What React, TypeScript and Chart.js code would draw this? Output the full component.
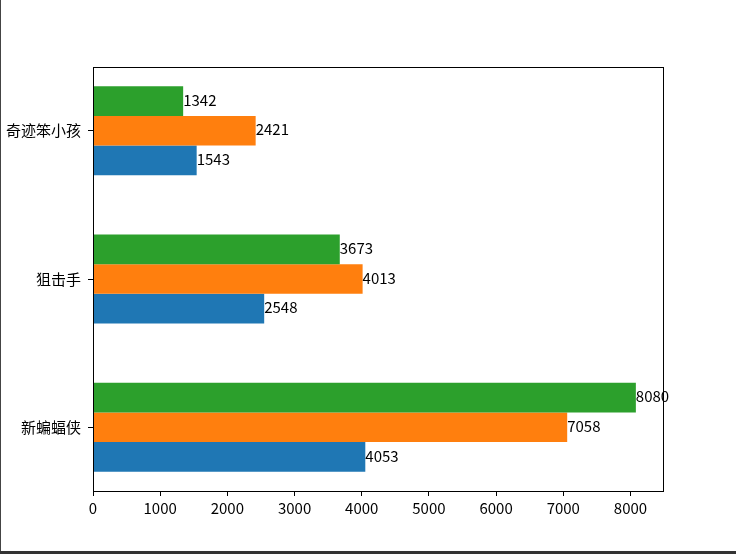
import React, { useEffect, useRef } from "react";
import { Chart, registerables } from "chart.js";

Chart.register(...registerables);

const categories = ["新蝙蝠侠", "狙击手", "奇迹笨小孩"];
const seriesBlue = [4053, 2548, 1543];
const seriesOrange = [7058, 4013, 2421];
const seriesGreen = [8080, 3673, 1342];
const xTicks = [0, 1000, 2000, 3000, 4000, 5000, 6000, 7000, 8000];
const yTicks = [0, 1, 2];

const FONT = "'Liberation Sans Narrow', 'Noto Sans CJK SC', sans-serif";

const toPoints = (vals: number[]) => vals.map((v, i) => ({ x: v, y: i }));

const framePlugin = {
  id: "frameAndLabels",
  afterDatasetsDraw(chart: any) {
    const { ctx, chartArea } = chart;
    ctx.save();
    ctx.strokeStyle = "#000";
    ctx.lineWidth = 1;
    const l = Math.round(chartArea.left) + 0.5;
    const t = Math.round(chartArea.top) + 0.5;
    const r = Math.round(chartArea.right) + 0.5;
    const b = Math.round(chartArea.bottom) + 0.5;
    ctx.strokeRect(l, t, r - l, b - t);
    ctx.font = `15px ${FONT}`;
    ctx.fillStyle = "#000";
    ctx.textAlign = "left";
    ctx.textBaseline = "middle";
    chart.data.datasets.forEach((ds: any, di: number) => {
      const meta = chart.getDatasetMeta(di);
      meta.data.forEach((el: any, i: number) => {
        const v = ds.data[i].x;
        ctx.fillText(String(v), el.x, el.y - 1);
      });
    });
    ctx.restore();
  },
};

export default function App() {
  const ref = useRef<HTMLCanvasElement | null>(null);
  useEffect(() => {
    if (!ref.current) return;
    const chart = new Chart(ref.current, {
      type: "bar",
      data: {
        datasets: [
          { label: "green", data: toPoints(seriesGreen), backgroundColor: "#2ca02c" },
          { label: "orange", data: toPoints(seriesOrange), backgroundColor: "#ff7f0e" },
          { label: "blue", data: toPoints(seriesBlue), backgroundColor: "#1f77b4" },
        ],
      },
      options: {
        indexAxis: "y",
        responsive: false,
        animation: false,
        layout: { padding: { left: 0, top: 67, right: 73, bottom: 0 } },
        datasets: { bar: { categoryPercentage: 0.6, barPercentage: 1.0 } },
        plugins: { legend: { display: false }, tooltip: { enabled: false } },
        scales: {
          x: {
            type: "linear",
            min: 0,
            max: 8484,
            offset: false,
            afterBuildTicks: (axis: any) => {
              axis.ticks = xTicks.map((v) => ({ value: v }));
            },
            afterFit: (axis: any) => {
              axis.height = 63;
            },
            grid: {
              display: true,
              offset: false,
              drawOnChartArea: false,
              drawTicks: true,
              tickLength: 5,
              color: "#000",
            },
            border: { display: false },
            ticks: {
              autoSkip: false,
              maxRotation: 0,
              padding: 3,
              color: "#000",
              font: { family: FONT, size: 15 },
              callback: (value: any) => String(value),
            },
          },
          y: {
            type: "linear",
            min: -0.43,
            max: 2.43,
            offset: false,
            afterBuildTicks: (axis: any) => {
              axis.ticks = yTicks.map((v) => ({ value: v }));
            },
            afterFit: (axis: any) => {
              axis.width = 93;
            },
            grid: {
              display: true,
              offset: false,
              drawOnChartArea: false,
              drawTicks: true,
              tickLength: 5,
              color: "#000",
            },
            border: { display: false },
            ticks: {
              autoSkip: false,
              padding: 7,
              color: "#000",
              font: { family: FONT, size: 15 },
              callback: (value: any) => categories[Math.round(Number(value))] ?? "",
            },
          },
        },
      },
      plugins: [framePlugin],
    });
    return () => chart.destroy();
  }, []);

  return (
    <div style={{ position: "fixed", left: 0, top: 0, width: 736, height: 554, background: "#fff" }}>
      <canvas ref={ref} width={736} height={554} style={{ display: "block" }} />
      <div style={{ position: "absolute", left: 0, top: 0, width: 1, height: 554, background: "#444" }} />
      <div style={{ position: "absolute", left: 0, bottom: 0, width: 736, height: 3, background: "#333" }} />
    </div>
  );
}
